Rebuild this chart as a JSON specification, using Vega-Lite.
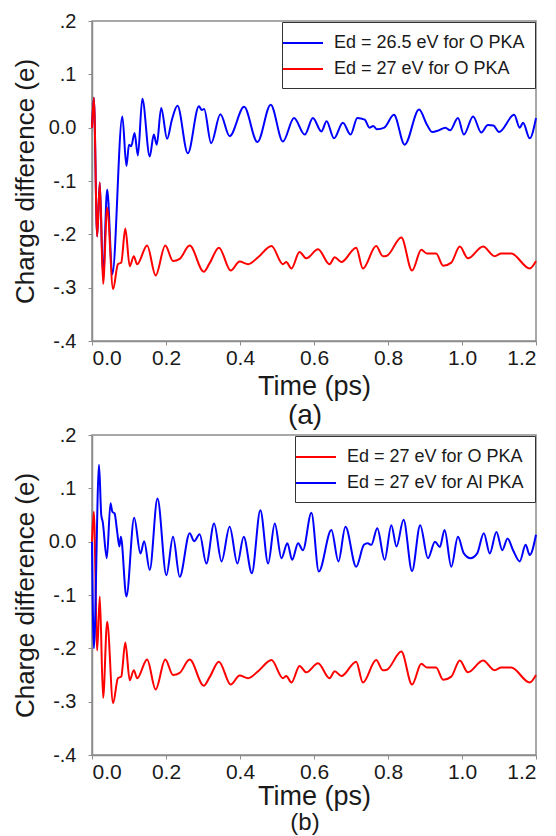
{
  "$schema": "https://vega.github.io/schema/vega-lite/v6.json",
  "background": "white",
  "padding": {"left": 11, "top": 10, "right": 2, "bottom": 0},
  "spacing": -7,
  "config": {
    "font": "Liberation Sans",
    "view": {"stroke": "#8c8c8c", "strokeWidth": 1.5},
    "axis": {"domainColor": "#8c8c8c", "domainWidth": 1.5, "tickColor": "#8c8c8c", "tickSize": 4, "labelFontSize": 20, "labelColor": "#1a1a1a", "titleFontSize": 26, "titleFontWeight": "normal", "titleColor": "#1a1a1a", "grid": false},
    "axisX": {"labelFontSize": 21, "titleFontSize": 27},
    "legend": {"orient": "top-right", "offset": 1, "fillColor": "white", "strokeColor": "#333333", "padding": 10, "labelFontSize": 18, "labelLimit": 0, "labelColor": "#1a1a1a", "symbolType": "M-2,0H2", "symbolSize": 400, "symbolStrokeWidth": 2, "labelOffset": 20, "rowPadding": 6, "title": null},
    "title": {"fontSize": 28, "fontWeight": "normal", "color": "#1a1a1a"},
    "line": {"strokeWidth": 2, "interpolate": "monotone"}
  },
  "datasets": {
    "curves": [
      {"s": "Ed = 27 eV for O PKA", "t": 0, "q": 0},
      {"s": "Ed = 27 eV for O PKA", "t": 0.005, "q": 0.056},
      {"s": "Ed = 27 eV for O PKA", "t": 0.014, "q": -0.204},
      {"s": "Ed = 27 eV for O PKA", "t": 0.021, "q": -0.103},
      {"s": "Ed = 27 eV for O PKA", "t": 0.030, "q": -0.293},
      {"s": "Ed = 27 eV for O PKA", "t": 0.041, "q": -0.150},
      {"s": "Ed = 27 eV for O PKA", "t": 0.057, "q": -0.303},
      {"s": "Ed = 27 eV for O PKA", "t": 0.070, "q": -0.256},
      {"s": "Ed = 27 eV for O PKA", "t": 0.079, "q": -0.253},
      {"s": "Ed = 27 eV for O PKA", "t": 0.090, "q": -0.189},
      {"s": "Ed = 27 eV for O PKA", "t": 0.102, "q": -0.260},
      {"s": "Ed = 27 eV for O PKA", "t": 0.113, "q": -0.241},
      {"s": "Ed = 27 eV for O PKA", "t": 0.122, "q": -0.256},
      {"s": "Ed = 27 eV for O PKA", "t": 0.149, "q": -0.221},
      {"s": "Ed = 27 eV for O PKA", "t": 0.172, "q": -0.277},
      {"s": "Ed = 27 eV for O PKA", "t": 0.198, "q": -0.221},
      {"s": "Ed = 27 eV for O PKA", "t": 0.219, "q": -0.250},
      {"s": "Ed = 27 eV for O PKA", "t": 0.237, "q": -0.246},
      {"s": "Ed = 27 eV for O PKA", "t": 0.264, "q": -0.221},
      {"s": "Ed = 27 eV for O PKA", "t": 0.302, "q": -0.270},
      {"s": "Ed = 27 eV for O PKA", "t": 0.318, "q": -0.254},
      {"s": "Ed = 27 eV for O PKA", "t": 0.343, "q": -0.225},
      {"s": "Ed = 27 eV for O PKA", "t": 0.375, "q": -0.268},
      {"s": "Ed = 27 eV for O PKA", "t": 0.399, "q": -0.251},
      {"s": "Ed = 27 eV for O PKA", "t": 0.422, "q": -0.256},
      {"s": "Ed = 27 eV for O PKA", "t": 0.449, "q": -0.243},
      {"s": "Ed = 27 eV for O PKA", "t": 0.485, "q": -0.222},
      {"s": "Ed = 27 eV for O PKA", "t": 0.516, "q": -0.256},
      {"s": "Ed = 27 eV for O PKA", "t": 0.525, "q": -0.252},
      {"s": "Ed = 27 eV for O PKA", "t": 0.539, "q": -0.264},
      {"s": "Ed = 27 eV for O PKA", "t": 0.561, "q": -0.233},
      {"s": "Ed = 27 eV for O PKA", "t": 0.579, "q": -0.245},
      {"s": "Ed = 27 eV for O PKA", "t": 0.611, "q": -0.228},
      {"s": "Ed = 27 eV for O PKA", "t": 0.642, "q": -0.256},
      {"s": "Ed = 27 eV for O PKA", "t": 0.656, "q": -0.243},
      {"s": "Ed = 27 eV for O PKA", "t": 0.674, "q": -0.252},
      {"s": "Ed = 27 eV for O PKA", "t": 0.714, "q": -0.225},
      {"s": "Ed = 27 eV for O PKA", "t": 0.732, "q": -0.264},
      {"s": "Ed = 27 eV for O PKA", "t": 0.768, "q": -0.222},
      {"s": "Ed = 27 eV for O PKA", "t": 0.786, "q": -0.241},
      {"s": "Ed = 27 eV for O PKA", "t": 0.797, "q": -0.240},
      {"s": "Ed = 27 eV for O PKA", "t": 0.836, "q": -0.206},
      {"s": "Ed = 27 eV for O PKA", "t": 0.865, "q": -0.268},
      {"s": "Ed = 27 eV for O PKA", "t": 0.890, "q": -0.229},
      {"s": "Ed = 27 eV for O PKA", "t": 0.905, "q": -0.236},
      {"s": "Ed = 27 eV for O PKA", "t": 0.930, "q": -0.236},
      {"s": "Ed = 27 eV for O PKA", "t": 0.949, "q": -0.259},
      {"s": "Ed = 27 eV for O PKA", "t": 0.971, "q": -0.253},
      {"s": "Ed = 27 eV for O PKA", "t": 0.994, "q": -0.223},
      {"s": "Ed = 27 eV for O PKA", "t": 1.016, "q": -0.245},
      {"s": "Ed = 27 eV for O PKA", "t": 1.057, "q": -0.223},
      {"s": "Ed = 27 eV for O PKA", "t": 1.088, "q": -0.241},
      {"s": "Ed = 27 eV for O PKA", "t": 1.106, "q": -0.236},
      {"s": "Ed = 27 eV for O PKA", "t": 1.133, "q": -0.236},
      {"s": "Ed = 27 eV for O PKA", "t": 1.183, "q": -0.264},
      {"s": "Ed = 27 eV for O PKA", "t": 1.200, "q": -0.250},

      {"s": "Ed = 26.5 eV for O PKA", "t": 0, "q": 0},
      {"s": "Ed = 26.5 eV for O PKA", "t": 0.005, "q": 0.056},
      {"s": "Ed = 26.5 eV for O PKA", "t": 0.014, "q": -0.204},
      {"s": "Ed = 26.5 eV for O PKA", "t": 0.021, "q": -0.103},
      {"s": "Ed = 26.5 eV for O PKA", "t": 0.030, "q": -0.280},
      {"s": "Ed = 26.5 eV for O PKA", "t": 0.041, "q": -0.116},
      {"s": "Ed = 26.5 eV for O PKA", "t": 0.055, "q": -0.275},
      {"s": "Ed = 26.5 eV for O PKA", "t": 0.082, "q": 0.021},
      {"s": "Ed = 26.5 eV for O PKA", "t": 0.093, "q": -0.072},
      {"s": "Ed = 26.5 eV for O PKA", "t": 0.100, "q": -0.032},
      {"s": "Ed = 26.5 eV for O PKA", "t": 0.106, "q": -0.035},
      {"s": "Ed = 26.5 eV for O PKA", "t": 0.115, "q": -0.010},
      {"s": "Ed = 26.5 eV for O PKA", "t": 0.124, "q": -0.052},
      {"s": "Ed = 26.5 eV for O PKA", "t": 0.136, "q": 0.054},
      {"s": "Ed = 26.5 eV for O PKA", "t": 0.156, "q": -0.054},
      {"s": "Ed = 26.5 eV for O PKA", "t": 0.167, "q": -0.013},
      {"s": "Ed = 26.5 eV for O PKA", "t": 0.175, "q": -0.032},
      {"s": "Ed = 26.5 eV for O PKA", "t": 0.187, "q": 0.037},
      {"s": "Ed = 26.5 eV for O PKA", "t": 0.203, "q": -0.021},
      {"s": "Ed = 26.5 eV for O PKA", "t": 0.216, "q": 0.015},
      {"s": "Ed = 26.5 eV for O PKA", "t": 0.231, "q": 0.041},
      {"s": "Ed = 26.5 eV for O PKA", "t": 0.259, "q": -0.048},
      {"s": "Ed = 26.5 eV for O PKA", "t": 0.289, "q": 0.040},
      {"s": "Ed = 26.5 eV for O PKA", "t": 0.297, "q": 0.033},
      {"s": "Ed = 26.5 eV for O PKA", "t": 0.303, "q": 0.035},
      {"s": "Ed = 26.5 eV for O PKA", "t": 0.322, "q": -0.029},
      {"s": "Ed = 26.5 eV for O PKA", "t": 0.347, "q": 0.025},
      {"s": "Ed = 26.5 eV for O PKA", "t": 0.372, "q": -0.016},
      {"s": "Ed = 26.5 eV for O PKA", "t": 0.411, "q": 0.039},
      {"s": "Ed = 26.5 eV for O PKA", "t": 0.447, "q": -0.027},
      {"s": "Ed = 26.5 eV for O PKA", "t": 0.483, "q": 0.043},
      {"s": "Ed = 26.5 eV for O PKA", "t": 0.516, "q": -0.026},
      {"s": "Ed = 26.5 eV for O PKA", "t": 0.546, "q": 0.018},
      {"s": "Ed = 26.5 eV for O PKA", "t": 0.575, "q": -0.013},
      {"s": "Ed = 26.5 eV for O PKA", "t": 0.597, "q": 0.018},
      {"s": "Ed = 26.5 eV for O PKA", "t": 0.620, "q": -0.007},
      {"s": "Ed = 26.5 eV for O PKA", "t": 0.634, "q": 0.012},
      {"s": "Ed = 26.5 eV for O PKA", "t": 0.654, "q": -0.020},
      {"s": "Ed = 26.5 eV for O PKA", "t": 0.678, "q": 0.009},
      {"s": "Ed = 26.5 eV for O PKA", "t": 0.699, "q": -0.013},
      {"s": "Ed = 26.5 eV for O PKA", "t": 0.717, "q": 0.018},
      {"s": "Ed = 26.5 eV for O PKA", "t": 0.737, "q": 0.015},
      {"s": "Ed = 26.5 eV for O PKA", "t": 0.750, "q": 0.000},
      {"s": "Ed = 26.5 eV for O PKA", "t": 0.760, "q": 0.003},
      {"s": "Ed = 26.5 eV for O PKA", "t": 0.770, "q": -0.003},
      {"s": "Ed = 26.5 eV for O PKA", "t": 0.790, "q": 0.000},
      {"s": "Ed = 26.5 eV for O PKA", "t": 0.816, "q": 0.024},
      {"s": "Ed = 26.5 eV for O PKA", "t": 0.845, "q": -0.032},
      {"s": "Ed = 26.5 eV for O PKA", "t": 0.884, "q": 0.034},
      {"s": "Ed = 26.5 eV for O PKA", "t": 0.905, "q": 0.006},
      {"s": "Ed = 26.5 eV for O PKA", "t": 0.919, "q": -0.008},
      {"s": "Ed = 26.5 eV for O PKA", "t": 0.937, "q": -0.005},
      {"s": "Ed = 26.5 eV for O PKA", "t": 0.955, "q": 0.000},
      {"s": "Ed = 26.5 eV for O PKA", "t": 0.968, "q": -0.005},
      {"s": "Ed = 26.5 eV for O PKA", "t": 0.989, "q": 0.018},
      {"s": "Ed = 26.5 eV for O PKA", "t": 1.005, "q": -0.013},
      {"s": "Ed = 26.5 eV for O PKA", "t": 1.030, "q": 0.021},
      {"s": "Ed = 26.5 eV for O PKA", "t": 1.052, "q": -0.009},
      {"s": "Ed = 26.5 eV for O PKA", "t": 1.070, "q": 0.005},
      {"s": "Ed = 26.5 eV for O PKA", "t": 1.085, "q": 0.004},
      {"s": "Ed = 26.5 eV for O PKA", "t": 1.100, "q": -0.008},
      {"s": "Ed = 26.5 eV for O PKA", "t": 1.141, "q": 0.024},
      {"s": "Ed = 26.5 eV for O PKA", "t": 1.156, "q": 0.000},
      {"s": "Ed = 26.5 eV for O PKA", "t": 1.165, "q": 0.009},
      {"s": "Ed = 26.5 eV for O PKA", "t": 1.183, "q": -0.020},
      {"s": "Ed = 26.5 eV for O PKA", "t": 1.200, "q": 0.018},

      {"s": "Ed = 27 eV for Al PKA", "t": 0, "q": 0},
      {"s": "Ed = 27 eV for Al PKA", "t": 0.005, "q": -0.200},
      {"s": "Ed = 27 eV for Al PKA", "t": 0.019, "q": 0.144},
      {"s": "Ed = 27 eV for Al PKA", "t": 0.025, "q": 0.050},
      {"s": "Ed = 27 eV for Al PKA", "t": 0.029, "q": 0.037},
      {"s": "Ed = 27 eV for Al PKA", "t": 0.040, "q": -0.031},
      {"s": "Ed = 27 eV for Al PKA", "t": 0.050, "q": 0.072},
      {"s": "Ed = 27 eV for Al PKA", "t": 0.055, "q": 0.056},
      {"s": "Ed = 27 eV for Al PKA", "t": 0.061, "q": 0.053},
      {"s": "Ed = 27 eV for Al PKA", "t": 0.068, "q": 0.019},
      {"s": "Ed = 27 eV for Al PKA", "t": 0.074, "q": -0.009},
      {"s": "Ed = 27 eV for Al PKA", "t": 0.078, "q": 0.009},
      {"s": "Ed = 27 eV for Al PKA", "t": 0.093, "q": -0.103},
      {"s": "Ed = 27 eV for Al PKA", "t": 0.114, "q": 0.045},
      {"s": "Ed = 27 eV for Al PKA", "t": 0.131, "q": -0.022},
      {"s": "Ed = 27 eV for Al PKA", "t": 0.141, "q": 0.001},
      {"s": "Ed = 27 eV for Al PKA", "t": 0.156, "q": -0.053},
      {"s": "Ed = 27 eV for Al PKA", "t": 0.177, "q": 0.081},
      {"s": "Ed = 27 eV for Al PKA", "t": 0.201, "q": -0.063},
      {"s": "Ed = 27 eV for Al PKA", "t": 0.219, "q": 0.009},
      {"s": "Ed = 27 eV for Al PKA", "t": 0.237, "q": -0.066},
      {"s": "Ed = 27 eV for Al PKA", "t": 0.264, "q": 0.016},
      {"s": "Ed = 27 eV for Al PKA", "t": 0.276, "q": 0.001},
      {"s": "Ed = 27 eV for Al PKA", "t": 0.291, "q": 0.014},
      {"s": "Ed = 27 eV for Al PKA", "t": 0.309, "q": -0.041},
      {"s": "Ed = 27 eV for Al PKA", "t": 0.330, "q": 0.034},
      {"s": "Ed = 27 eV for Al PKA", "t": 0.350, "q": -0.037},
      {"s": "Ed = 27 eV for Al PKA", "t": 0.372, "q": 0.028},
      {"s": "Ed = 27 eV for Al PKA", "t": 0.393, "q": -0.041},
      {"s": "Ed = 27 eV for Al PKA", "t": 0.410, "q": 0.009},
      {"s": "Ed = 27 eV for Al PKA", "t": 0.432, "q": -0.059},
      {"s": "Ed = 27 eV for Al PKA", "t": 0.455, "q": 0.059},
      {"s": "Ed = 27 eV for Al PKA", "t": 0.476, "q": -0.041},
      {"s": "Ed = 27 eV for Al PKA", "t": 0.494, "q": 0.034},
      {"s": "Ed = 27 eV for Al PKA", "t": 0.512, "q": -0.031},
      {"s": "Ed = 27 eV for Al PKA", "t": 0.528, "q": -0.003},
      {"s": "Ed = 27 eV for Al PKA", "t": 0.541, "q": -0.034},
      {"s": "Ed = 27 eV for Al PKA", "t": 0.557, "q": -0.003},
      {"s": "Ed = 27 eV for Al PKA", "t": 0.570, "q": -0.016},
      {"s": "Ed = 27 eV for Al PKA", "t": 0.593, "q": 0.054},
      {"s": "Ed = 27 eV for Al PKA", "t": 0.613, "q": -0.056},
      {"s": "Ed = 27 eV for Al PKA", "t": 0.647, "q": 0.022},
      {"s": "Ed = 27 eV for Al PKA", "t": 0.666, "q": -0.037},
      {"s": "Ed = 27 eV for Al PKA", "t": 0.685, "q": 0.028},
      {"s": "Ed = 27 eV for Al PKA", "t": 0.714, "q": -0.047},
      {"s": "Ed = 27 eV for Al PKA", "t": 0.735, "q": -0.006},
      {"s": "Ed = 27 eV for Al PKA", "t": 0.745, "q": -0.003},
      {"s": "Ed = 27 eV for Al PKA", "t": 0.755, "q": -0.006},
      {"s": "Ed = 27 eV for Al PKA", "t": 0.771, "q": 0.025},
      {"s": "Ed = 27 eV for Al PKA", "t": 0.791, "q": -0.034},
      {"s": "Ed = 27 eV for Al PKA", "t": 0.809, "q": 0.031},
      {"s": "Ed = 27 eV for Al PKA", "t": 0.823, "q": -0.009},
      {"s": "Ed = 27 eV for Al PKA", "t": 0.842, "q": 0.041},
      {"s": "Ed = 27 eV for Al PKA", "t": 0.865, "q": -0.055},
      {"s": "Ed = 27 eV for Al PKA", "t": 0.887, "q": 0.031},
      {"s": "Ed = 27 eV for Al PKA", "t": 0.908, "q": -0.031},
      {"s": "Ed = 27 eV for Al PKA", "t": 0.927, "q": 0.000},
      {"s": "Ed = 27 eV for Al PKA", "t": 0.940, "q": -0.010},
      {"s": "Ed = 27 eV for Al PKA", "t": 0.953, "q": 0.022},
      {"s": "Ed = 27 eV for Al PKA", "t": 0.971, "q": -0.047},
      {"s": "Ed = 27 eV for Al PKA", "t": 0.989, "q": 0.009},
      {"s": "Ed = 27 eV for Al PKA", "t": 1.005, "q": -0.022},
      {"s": "Ed = 27 eV for Al PKA", "t": 1.023, "q": -0.031},
      {"s": "Ed = 27 eV for Al PKA", "t": 1.041, "q": -0.022},
      {"s": "Ed = 27 eV for Al PKA", "t": 1.059, "q": 0.016},
      {"s": "Ed = 27 eV for Al PKA", "t": 1.075, "q": -0.022},
      {"s": "Ed = 27 eV for Al PKA", "t": 1.093, "q": 0.018},
      {"s": "Ed = 27 eV for Al PKA", "t": 1.109, "q": -0.016},
      {"s": "Ed = 27 eV for Al PKA", "t": 1.123, "q": 0.006},
      {"s": "Ed = 27 eV for Al PKA", "t": 1.138, "q": -0.016},
      {"s": "Ed = 27 eV for Al PKA", "t": 1.156, "q": -0.037},
      {"s": "Ed = 27 eV for Al PKA", "t": 1.172, "q": -0.006},
      {"s": "Ed = 27 eV for Al PKA", "t": 1.183, "q": -0.025},
      {"s": "Ed = 27 eV for Al PKA", "t": 1.200, "q": 0.013}
    ]
  },
  "vconcat": [
    {
      "width": 444,
      "height": 320,
      "data": {"name": "curves"},
      "title": {"text": "(a)", "orient": "bottom", "anchor": "middle", "frame": "group", "offset": 3, "dx": -9},
      "encoding": {
        "x": {"field": "t", "type": "quantitative", "scale": {"domain": [0, 1.2], "nice": false, "zero": false},
              "axis": {"title": "Time (ps)", "values": [0, 0.2, 0.4, 0.6, 0.8, 1.0, 1.2], "format": ".1f", "labelPadding": 2, "titlePadding": 5}},
        "y": {"field": "q", "type": "quantitative", "scale": {"domain": [-0.4, 0.2], "nice": false, "zero": false},
              "axis": {"title": "Charge difference (e)", "values": [-0.4, -0.3, -0.2, -0.1, 0, 0.1, 0.2], "labelExpr": "datum.value == 0 ? '0.0' : (datum.value < 0 ? '-' : '') + '.' + format(abs(datum.value) * 10, '.0f')", "labelPadding": 12, "titlePadding": 10}},
        "color": {"field": "s", "type": "nominal", "scale": {"domain": ["Ed = 26.5 eV for O PKA", "Ed = 27 eV for O PKA"], "range": ["#0000ff", "#ff0000"]}}
      },
      "layer": [
        {"transform": [{"filter": "datum.s == 'Ed = 26.5 eV for O PKA'"}], "mark": {"type": "line"}},
        {"transform": [{"filter": "datum.s == 'Ed = 27 eV for O PKA'"}], "mark": {"type": "line"}}
      ]
    },
    {
      "width": 444,
      "height": 320,
      "data": {"name": "curves"},
      "title": {"text": "(b)", "orient": "bottom", "anchor": "middle", "frame": "group", "offset": 2, "dx": -9, "fontSize": 24},
      "encoding": {
        "x": {"field": "t", "type": "quantitative", "scale": {"domain": [0, 1.2], "nice": false, "zero": false},
              "axis": {"title": "Time (ps)", "values": [0, 0.2, 0.4, 0.6, 0.8, 1.0, 1.2], "format": ".1f", "labelPadding": 2, "titlePadding": 1}},
        "y": {"field": "q", "type": "quantitative", "scale": {"domain": [-0.4, 0.2], "nice": false, "zero": false},
              "axis": {"title": "Charge difference (e)", "values": [-0.4, -0.3, -0.2, -0.1, 0, 0.1, 0.2], "labelExpr": "datum.value == 0 ? '0.0' : (datum.value < 0 ? '-' : '') + '.' + format(abs(datum.value) * 10, '.0f')", "labelPadding": 12, "titlePadding": 10}},
        "color": {"field": "s", "type": "nominal", "scale": {"domain": ["Ed = 27 eV for O PKA", "Ed = 27 eV for Al PKA"], "range": ["#ff0000", "#0000ff"]}}
      },
      "layer": [
        {"transform": [{"filter": "datum.s == 'Ed = 27 eV for O PKA'"}], "mark": {"type": "line"}},
        {"transform": [{"filter": "datum.s == 'Ed = 27 eV for Al PKA'"}], "mark": {"type": "line"}}
      ]
    }
  ],
  "resolve": {"scale": {"color": "independent"}}
}
